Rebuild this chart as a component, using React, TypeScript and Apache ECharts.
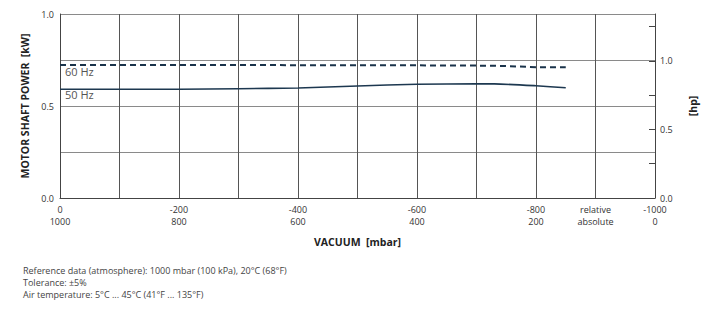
import React, { useEffect, useRef } from "react";
import * as echarts from "echarts";

// Vacuum (mbar below atmosphere) vs motor shaft power (kW)
const vac60: number[] = [0, 200, 400, 600, 730, 800, 850];
const kw60: number[] = [0.723, 0.723, 0.722, 0.721, 0.719, 0.711, 0.711];
const vac50: number[] = [0, 200, 300, 400, 500, 600, 700, 730, 800, 850];
const kw50: number[] = [0.591, 0.591, 0.594, 0.598, 0.609, 0.618, 0.62, 0.62, 0.61, 0.599];

const xTickValues: number[] = [0, 200, 400, 600, 800, 900, 1000];
const xRelLabels: string[] = ["0", "-200", "-400", "-600", "-800", "relative", "-1000"];
const xAbsLabels: string[] = ["1000", "800", "600", "400", "200", "absolute", "0"];
const kwLabelTicks: number[] = [0, 0.5, 1.0];
const hpLabelTicks: number[] = [0, 0.5, 1.0];
const KW_TO_HP = 1.341;

const footerLines: string[] = [
  "Reference data (atmosphere): 1000 mbar (100 kPa), 20°C (68°F)",
  "Tolerance: ±5%",
  "Air temperature: 5°C ... 45°C (41°F ... 135°F)",
];

const FONT = "'Open Sans', 'DejaVu Sans', sans-serif";

export default function App() {
  const ref = useRef<HTMLDivElement>(null);
  useEffect(() => {
    if (!ref.current) return;
    const chart = echarts.init(ref.current, undefined, { renderer: "svg" });
    const near = (a: number, list: number[]) => list.some((v) => Math.abs(v - a) < 1e-6);
    chart.setOption({
      animation: false,
      backgroundColor: "#ffffff",
      textStyle: { fontFamily: FONT },
      grid: { left: 60, top: 14, width: 595, height: 184 },
      xAxis: {
        type: "value",
        min: 0,
        max: 1000,
        interval: 100,
        axisLine: { show: true, lineStyle: { color: "#444", width: 1 } },
        axisTick: { show: false },
        splitLine: { show: true, lineStyle: { color: "#555", width: 1 } },
        axisLabel: {
          color: "#333",
          fontSize: 9,
          lineHeight: 12,
          margin: 5,
          showMaxLabel: true,
          showMinLabel: true,
          formatter: (v: number) => {
            const i = xTickValues.findIndex((t) => Math.abs(t - v) < 1e-6);
            return i >= 0 ? xRelLabels[i] + "\n" + xAbsLabels[i] : "";
          },
        },
        name: "VACUUM  [mbar]",
        nameLocation: "middle",
        nameGap: 38,
        nameTextStyle: { fontWeight: "bold", fontSize: 10.5, color: "#222" },
      },
      yAxis: [
        {
          type: "value",
          min: 0,
          max: 1,
          interval: 0.25,
          axisLine: { show: true, lineStyle: { color: "#444", width: 1 } },
          axisTick: { show: false },
          splitLine: { show: true, lineStyle: { color: "#8a8a8a", width: 1.2 } },
          axisLabel: {
            color: "#333",
            fontSize: 9,
            margin: 6,
            formatter: (v: number) => (near(v, kwLabelTicks) ? v.toFixed(1) : ""),
          },
          name: "MOTOR SHAFT POWER  [kW]",
          nameLocation: "middle",
          nameGap: 30,
          nameTextStyle: { fontWeight: "bold", fontSize: 10.5, color: "#222" },
        },
        {
          type: "value",
          position: "right",
          min: 0,
          max: KW_TO_HP,
          interval: 0.25,
          axisLine: { show: true, lineStyle: { color: "#444", width: 1 } },
          axisTick: { show: true, inside: true, length: 6, lineStyle: { color: "#444" } },
          splitLine: { show: false },
          axisLabel: {
            color: "#333",
            fontSize: 9,
            margin: 5,
            showMaxLabel: false,
            formatter: (v: number) => (near(v, hpLabelTicks) ? v.toFixed(1) : ""),
          },
          name: "[hp]",
          nameLocation: "middle",
          nameGap: 32,
          nameRotate: 90,
          nameTextStyle: { fontWeight: "bold", fontSize: 10.5, color: "#222" },
        },
      ],
      series: [
        {
          type: "line",
          name: "60 Hz",
          data: vac60.map((x, i) => [x, kw60[i]]),
          showSymbol: false,
          symbol: "none",
          lineStyle: { color: "#1a334a", width: 2, type: [6, 4] },
          z: 5,
        },
        {
          type: "line",
          name: "50 Hz",
          data: vac50.map((x, i) => [x, kw50[i]]),
          showSymbol: false,
          symbol: "none",
          smooth: 0.2,
          lineStyle: { color: "#1d3850", width: 1.6 },
          z: 5,
        },
      ],
      graphic: [
        { type: "text", left: 65, top: 66, style: { text: "60 Hz", fill: "#555", fontSize: 11, fontFamily: FONT } },
        { type: "text", left: 65, top: 89, style: { text: "50 Hz", fill: "#555", fontSize: 11, fontFamily: FONT } },
        ...footerLines.map((t, i) => ({
          type: "text",
          left: 23,
          top: 266 + i * 12,
          style: { text: t, fill: "#444", fontSize: 9, fontFamily: FONT },
        })),
      ],
    });
    return () => chart.dispose();
  }, []);
  return (
    <div
      ref={ref}
      style={{ position: "absolute", left: 0, top: 0, width: 720, height: 321 }}
    />
  );
}
